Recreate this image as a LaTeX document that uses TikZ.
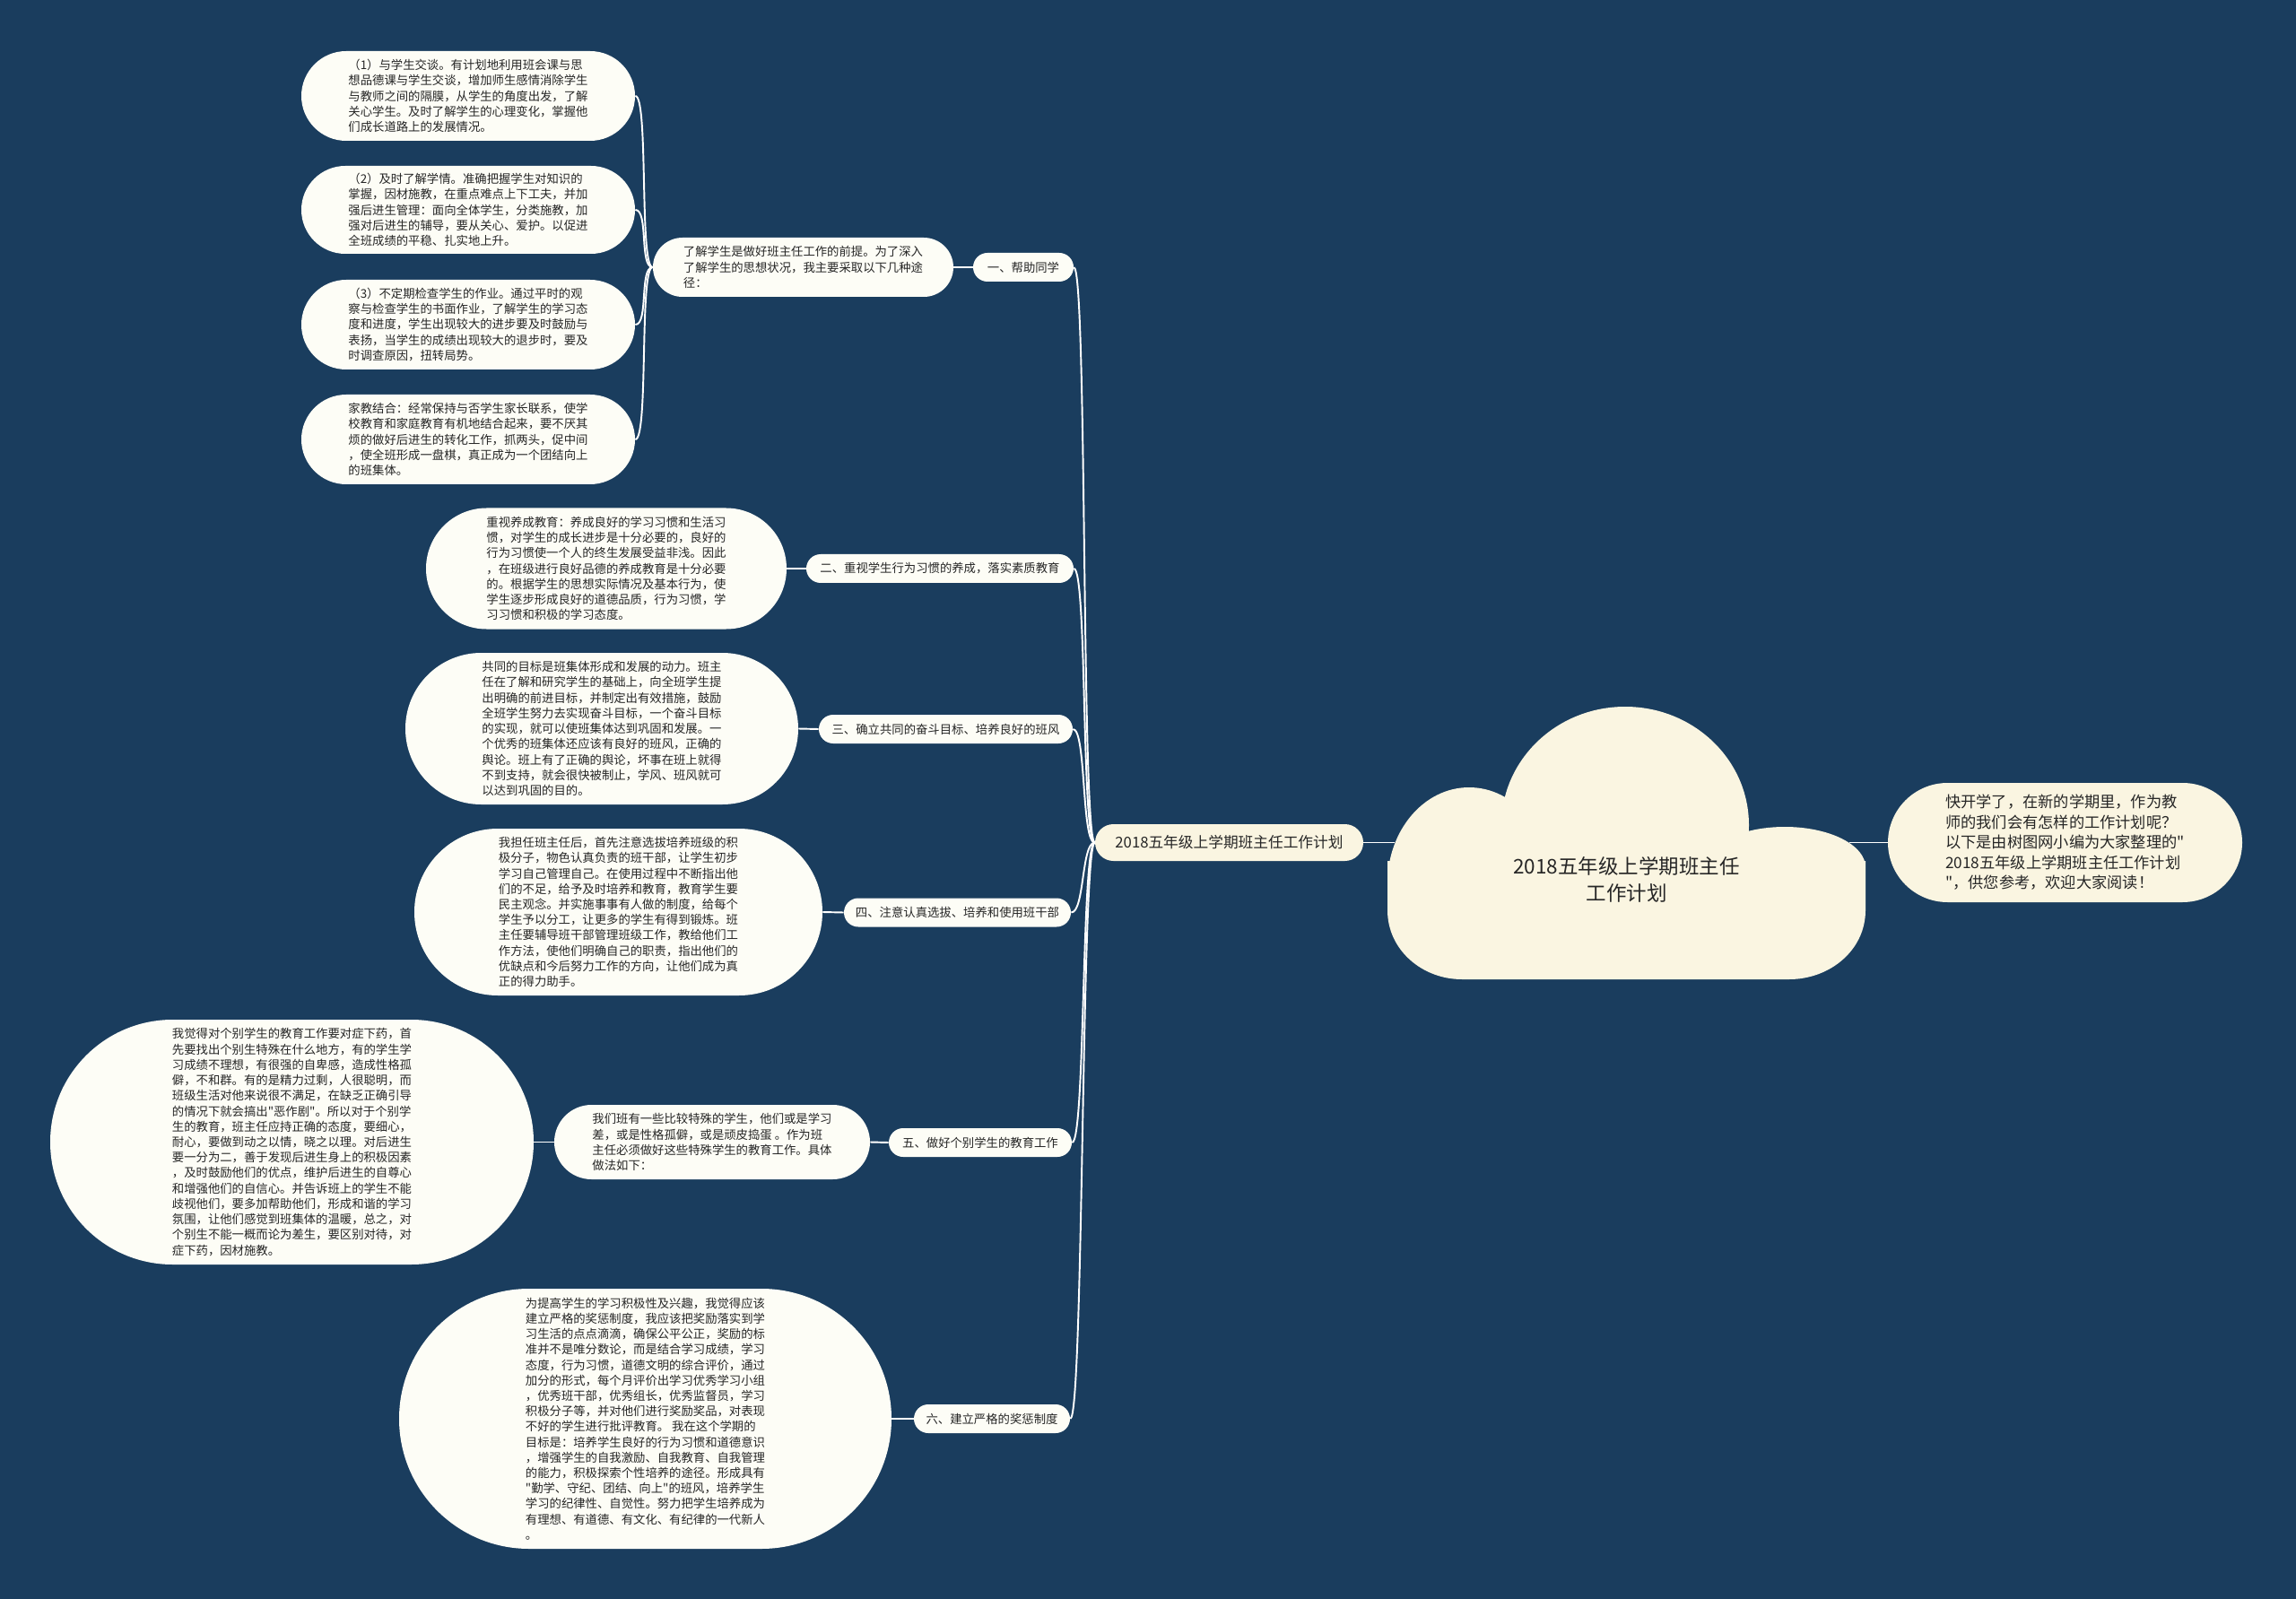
\documentclass[tikz,border=0pt]{standalone}
\usepackage{fontspec}
\setmainfont{Noto Sans CJK SC}
\usepackage{tikz}
\definecolor{mapnavy}{HTML}{1A3D5E}
\definecolor{leafwhite}{HTML}{FDFDF6}
\definecolor{cloudcream}{HTML}{FAF5E1}
\definecolor{inkgray}{HTML}{262626}

\begin{document}
\begin{tikzpicture}[
    textbox/.style={rectangle, fill=leafwhite, rounded corners=#1, inner sep=0pt,
                    align=left, text=inkgray, font=\fontsize{7.6pt}{9.8pt}\selectfont},
    pillbox/.style={textbox=0.32cm, minimum height=0.64cm},
    creambox/.style={textbox=#1, fill=cloudcream},
    link/.style={draw=white, line width=1.1pt}
]
\fill[mapnavy] (0,0) rectangle (51.2,-35.66);
% left column: ways to know the students
\node[textbox=1cm, minimum width=7.44cm, minimum height=2cm] (talk) at (10.44,-2.14)
    {（1）与学生交谈。有计划地利用班会课与思\\想品德课与学生交谈，增加师生感情消除学生\\与教师之间的隔膜，从学生的角度出发，了解\\关心学生。及时了解学生的心理变化，掌握他\\们成长道路上的发展情况。};
\node[textbox=0.98cm, minimum width=7.44cm, minimum height=1.96cm] (grasp) at (10.44,-4.68)
    {（2）及时了解学情。准确把握学生对知识的\\掌握，因材施教，在重点难点上下工夫，并加\\强后进生管理：面向全体学生，分类施教，加\\强对后进生的辅导，要从关心、爱护。以促进\\全班成绩的平稳、扎实地上升。};
\node[textbox=1cm, minimum width=7.44cm, minimum height=2cm] (homework) at (10.44,-7.24)
    {（3）不定期检查学生的作业。通过平时的观\\察与检查学生的书面作业，了解学生的学习态\\度和进度，学生出现较大的进步要及时鼓励与\\表扬，当学生的成绩出现较大的退步时，要及\\时调查原因，扭转局势。};
\node[textbox=1cm, minimum width=7.44cm, minimum height=2cm] (family) at (10.44,-9.80)
    {家教结合：经常保持与否学生家长联系，使学\\校教育和家庭教育有机地结合起来，要不厌其\\烦的做好后进生的转化工作，抓两头，促中间\\，使全班形成一盘棋，真正成为一个团结向上\\的班集体。};
\node[textbox=0.66cm, minimum width=6.7cm, minimum height=1.32cm] (know) at (17.91,-5.96)
    {了解学生是做好班主任工作的前提。为了深入\\了解学生的思想状况，我主要采取以下几种途\\径：};
% middle column
\node[textbox=1.35cm, minimum width=8.04cm, minimum height=2.7cm] (habittxt) at (13.52,-12.68)
    {重视养成教育：养成良好的学习习惯和生活习\\惯，对学生的成长进步是十分必要的，良好的\\行为习惯使一个人的终生发展受益非浅。因此\\，在班级进行良好品德的养成教育是十分必要\\的。根据学生的思想实际情况及基本行为，使\\学生逐步形成良好的道德品质，行为习惯，学\\习习惯和积极的学习态度。};
\node[textbox=1.69cm, minimum width=8.76cm, minimum height=3.38cm] (goaltxt) at (13.42,-16.25)
    {共同的目标是班集体形成和发展的动力。班主\\任在了解和研究学生的基础上，向全班学生提\\出明确的前进目标，并制定出有效措施，鼓励\\全班学生努力去实现奋斗目标，一个奋斗目标\\的实现，就可以使班集体达到巩固和发展。一\\个优秀的班集体还应该有良好的班风，正确的\\舆论。班上有了正确的舆论，坏事在班上就得\\不到支持，就会很快被制止，学风、班风就可\\以达到巩固的目的。};
\node[textbox=1.86cm, minimum width=9.1cm, minimum height=3.72cm] (cadretxt) at (13.79,-20.34)
    {我担任班主任后，首先注意选拔培养班级的积\\极分子，物色认真负责的班干部，让学生初步\\学习自己管理自己。在使用过程中不断指出他\\们的不足，给予及时培养和教育，教育学生要\\民主观念。并实施事事有人做的制度，给每个\\学生予以分工，让更多的学生有得到锻炼。班\\主任要辅导班干部管理班级工作，教给他们工\\作方法，使他们明确自己的职责，指出他们的\\优缺点和今后努力工作的方向，让他们成为真\\正的得力助手。};
\node[textbox=0.83cm, minimum width=7.04cm, minimum height=1.66cm] (indivtxt) at (15.88,-25.47)
    {我们班有一些比较特殊的学生，他们或是学习\\差，或是性格孤僻，或是顽皮捣蛋 。作为班\\主任必须做好这些特殊学生的教育工作。具体\\做法如下：};
\node[textbox=2.73cm, minimum width=10.78cm, minimum height=5.46cm] (indivway) at (6.51,-25.47)
    {我觉得对个别学生的教育工作要对症下药，首\\先要找出个别生特殊在什么地方，有的学生学\\习成绩不理想，有很强的自卑感，造成性格孤\\僻，不和群。有的是精力过剩，人很聪明，而\\班级生活对他来说很不满足，在缺乏正确引导\\的情况下就会搞出\textquotedbl 恶作剧\textquotedbl 。所以对于个别学\\生的教育，班主任应持正确的态度，要细心，\\耐心，要做到动之以情，晓之以理。对后进生\\要一分为二，善于发现后进生身上的积极因素\\，及时鼓励他们的优点，维护后进生的自尊心\\和增强他们的自信心。并告诉班上的学生不能\\歧视他们，要多加帮助他们，形成和谐的学习\\氛围，让他们感觉到班集体的温暖，总之，对\\个别生不能一概而论为差生，要区别对待，对\\症下药，因材施教。};
\node[textbox=2.9cm, minimum width=10.98cm, minimum height=5.8cm] (rewardtxt) at (14.39,-31.64)
    {为提高学生的学习积极性及兴趣，我觉得应该\\建立严格的奖惩制度，我应该把奖励落实到学\\习生活的点点滴滴，确保公平公正，奖励的标\\准并不是唯分数论，而是结合学习成绩，学习\\态度，行为习惯，道德文明的综合评价，通过\\加分的形式，每个月评价出学习优秀学习小组\\，优秀班干部，优秀组长，优秀监督员，学习\\积极分子等，并对他们进行奖励奖品，对表现\\不好的学生进行批评教育。 我在这个学期的\\目标是：培养学生良好的行为习惯和道德意识\\，增强学生的自我激励、自我教育、自我管理\\的能力，积极探索个性培养的途径。形成具有\\\textquotedbl 勤学、守纪、团结、向上\textquotedbl 的班风，培养学生\\学习的纪律性、自觉性。努力把学生培养成为\\有理想、有道德、有文化、有纪律的一代新人\\。};
% branch labels
\node[pillbox, minimum width=2.24cm] (help) at (22.82,-5.96) {一、帮助同学};
\node[pillbox, minimum width=5.96cm] (habit) at (20.96,-12.68) {二、重视学生行为习惯的养成，落实素质教育};
\node[pillbox, minimum width=5.66cm] (goal) at (21.09,-16.26) {三、确立共同的奋斗目标、培养良好的班风};
\node[pillbox, minimum width=5.06cm] (cadre) at (21.35,-20.35) {四、注意认真选拔、培养和使用班干部};
\node[pillbox, minimum width=4.08cm] (indiv) at (21.86,-25.48) {五、做好个别学生的教育工作};
\node[pillbox, minimum width=3.48cm] (reward) at (22.12,-31.64) {六、建立严格的奖惩制度};
\node[creambox=0.41cm, minimum width=5.98cm, minimum height=0.82cm,
      font=\fontsize{9.5pt}{12pt}\selectfont] (plan) at (27.41,-18.79) {2018五年级上学期班主任工作计划};
% cloud
\fill[cloudcream] (36.24,-18.40) ellipse [x radius=2.76cm, y radius=2.64cm];
\fill[cloudcream] (32.76,-19.70) ellipse [x radius=1.82cm, y radius=2.14cm];
\fill[cloudcream] (39.80,-19.34) ellipse [x radius=1.80cm, y radius=0.90cm];
\fill[cloudcream] (30.94,-19.2) -- (30.94,-20.3) to[out=-90,in=180] (32.6,-21.84)
    -- (39.9,-21.84) to[out=0,in=-90] (41.60,-20.3) -- (41.60,-19.2) -- cycle;
\node[align=center, text=inkgray, font=\fontsize{12.8pt}{17pt}\selectfont] (title) at (36.27,-19.62)
    {2018五年级上学期班主任\\工作计划};
\coordinate (cloudW) at (31.1,-18.79);
\coordinate (cloudE) at (41.24,-18.79);
\node[creambox=1.33cm, minimum width=7.9cm, minimum height=2.66cm,
      font=\fontsize{9.8pt}{12.8pt}\selectfont] (intro) at (46.05,-18.79)
    {快开学了，在新的学期里，作为教\\师的我们会有怎样的工作计划呢？\\以下是由树图网小编为大家整理的\textquotedbl\\2018五年级上学期班主任工作计划\\\textquotedbl ，供您参考，欢迎大家阅读！};
% connectors
\draw[link] (plan.east) -- (cloudW);
\draw[link] (cloudE) -- (intro.west);
\foreach \b in {help, habit, goal, cadre, indiv, reward}
    \draw[link] (plan.west) .. controls +(-0.3,0) and +(0.3,0) .. (\b.east);
\foreach \l in {talk, grasp, homework, family}
    \draw[link] (know.west) .. controls +(-0.3,0) and +(0.3,0) .. (\l.east);
\draw[link] (help.west) -- (know.east);
\draw[link] (habit.west) -- (habittxt.east);
\draw[link] (goal.west) -- (goaltxt.east);
\draw[link] (cadre.west) -- (cadretxt.east);
\draw[link] (indiv.west) -- (indivtxt.east);
\draw[link] (indivtxt.west) -- (indivway.east);
\draw[link] (reward.west) -- (rewardtxt.east);
\end{tikzpicture}
\end{document}
